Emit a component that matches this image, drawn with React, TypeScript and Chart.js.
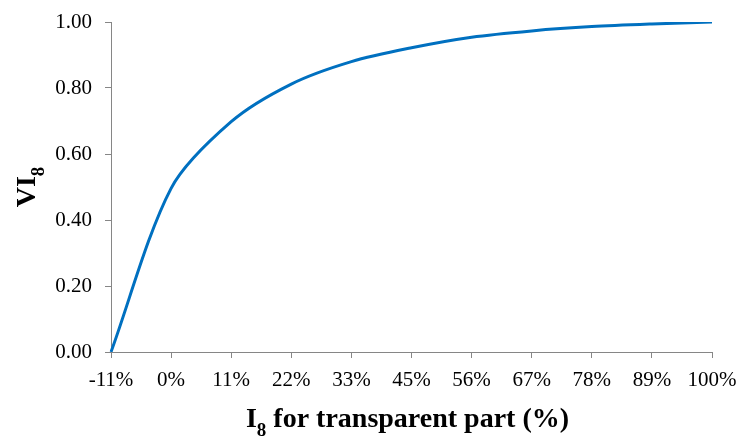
import React, { useEffect, useRef } from "react";
import { Chart, registerables } from "chart.js";

Chart.register(...registerables);

const xLabels = ["-11%", "0%", "11%", "22%", "33%", "45%", "56%", "67%", "78%", "89%", "100%"];
const viValues = [0, 0.496, 0.698, 0.812, 0.88, 0.922, 0.954, 0.973, 0.986, 0.994, 1.0];
const yMin = 0;
const yMax = 1;
const yStep = 0.2;

const xTitleMain = "I";
const xTitleSub = "8";
const xTitleRest = " for transparent part (%)";
const yTitleMain = "VI";
const yTitleSub = "8";

const FAMILY = "'Liberation Serif', 'Times New Roman', serif";
const AXIS_COLOR = "#868686";

function drawCompound(ctx: CanvasRenderingContext2D, x: number, y: number, main: string, sub: string, rest: string) {
  const mainFont = `bold 28px ${FAMILY}`;
  const subFont = `bold 19px ${FAMILY}`;
  ctx.font = mainFont;
  const w1 = ctx.measureText(main).width;
  const w3 = ctx.measureText(rest).width;
  ctx.font = subFont;
  const w2 = ctx.measureText(sub).width;
  const total = w1 + w2 + w3;
  let sx = x - total / 2;
  ctx.textAlign = "left";
  ctx.textBaseline = "alphabetic";
  ctx.fillStyle = "#000";
  ctx.font = mainFont;
  ctx.fillText(main, sx, y);
  sx += w1;
  ctx.font = subFont;
  ctx.fillText(sub, sx, y + 9);
  sx += w2;
  ctx.font = mainFont;
  if (rest) ctx.fillText(rest, sx, y);
}

const titlePlugin = {
  id: "axisTitlesSub",
  afterDraw(chart: any) {
    const ctx: CanvasRenderingContext2D = chart.ctx;
    const ca = chart.chartArea;
    ctx.save();
    drawCompound(ctx, (ca.left + ca.right) / 2 - 4, 427, xTitleMain, xTitleSub, xTitleRest);
    ctx.restore();
    ctx.save();
    ctx.translate(35, (ca.top + ca.bottom) / 2);
    ctx.rotate(-Math.PI / 2);
    drawCompound(ctx, 0, 0, yTitleMain, yTitleSub, "");
    ctx.restore();
  },
};

export default function App() {
  const ref = useRef<HTMLCanvasElement | null>(null);
  useEffect(() => {
    if (!ref.current) return;
    const chart = new Chart(ref.current, {
      type: "line",
      data: {
        labels: xLabels,
        datasets: [
          {
            data: viValues,
            borderColor: "#0070C0",
            backgroundColor: "#0070C0",
            borderWidth: 3,
            pointRadius: 0,
            tension: 0.3,
            fill: false,
          },
        ],
      },
      options: {
        animation: false,
        responsive: false,
        layout: { padding: { top: 22, right: 28, left: 0, bottom: 0 } },
        plugins: { legend: { display: false }, tooltip: { enabled: false }, title: { display: false } },
        scales: {
          x: {
            type: "category",
            offset: false,
            grid: { display: true, drawOnChartArea: false, drawTicks: true, tickLength: 6, color: AXIS_COLOR, lineWidth: 1 },
            border: { display: true, color: AXIS_COLOR, width: 1 },
            ticks: { color: "#000", font: { family: FAMILY, size: 21 }, padding: 10, maxRotation: 0, autoSkip: false },
            afterFit: (s: any) => {
              s.height = 86;
              s.paddingLeft = 0;
              s.paddingRight = 0;
            },
          },
          y: {
            min: yMin,
            max: yMax,
            grid: { display: true, drawOnChartArea: false, drawTicks: true, tickLength: 6, color: AXIS_COLOR, lineWidth: 1 },
            border: { display: true, color: AXIS_COLOR, width: 1 },
            ticks: {
              stepSize: yStep,
              color: "#000",
              font: { family: FAMILY, size: 21 },
              padding: 13,
              callback: (v: any) => Number(v).toFixed(2),
            },
            afterFit: (s: any) => {
              s.width = 111;
              s.paddingTop = 0;
              s.paddingBottom = 0;
            },
          },
        },
      },
      plugins: [titlePlugin],
    });
    return () => chart.destroy();
  }, []);
  return (
    <div style={{ position: "absolute", left: 0, top: 0, width: 740, height: 438, background: "#fff" }}>
      <canvas ref={ref} width={740} height={438} style={{ display: "block" }} />
    </div>
  );
}
